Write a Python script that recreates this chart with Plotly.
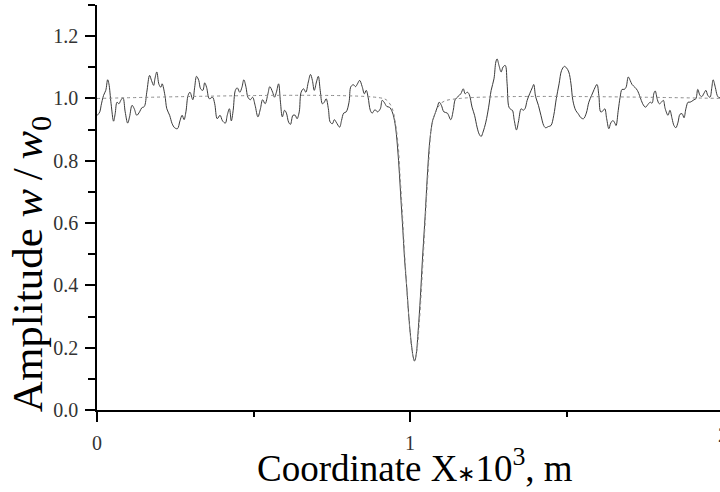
import plotly.graph_objects as go

# amplitude curve (x in units of 10^3 m)
x_wave = [
    0.000, 0.009, 0.013, 0.021, 0.028, 0.034, 0.038, 0.045, 0.053, 0.058,
    0.064, 0.070, 0.076, 0.083, 0.090, 0.098, 0.104, 0.112, 0.119, 0.127,
    0.136, 0.143, 0.151, 0.159, 0.168, 0.174, 0.181, 0.185, 0.191, 0.198,
    0.204, 0.208, 0.217, 0.223, 0.232, 0.240, 0.248, 0.257, 0.265, 0.272,
    0.278, 0.284, 0.291, 0.297, 0.306, 0.312, 0.318, 0.325, 0.331, 0.338,
    0.344, 0.350, 0.359, 0.369, 0.376, 0.384, 0.393, 0.401, 0.410, 0.416,
    0.423, 0.429, 0.435, 0.442, 0.448, 0.456, 0.463, 0.469, 0.476, 0.482,
    0.490, 0.497, 0.505, 0.514, 0.522, 0.529, 0.537, 0.546, 0.552, 0.561,
    0.567, 0.573, 0.580, 0.586, 0.592, 0.599, 0.605, 0.612, 0.618, 0.626,
    0.633, 0.639, 0.646, 0.652, 0.660, 0.667, 0.675,
    0.682, 0.688, 0.694, 0.701, 0.707, 0.713, 0.720, 0.726, 0.732, 0.739,
    0.745, 0.752, 0.758, 0.764, 0.775, 0.781, 0.788, 0.796, 0.805, 0.811,
    0.819, 0.826, 0.832, 0.839, 0.847, 0.854, 0.860, 0.866, 0.873, 0.879,
    0.888, 0.896, 0.905, 0.911, 0.917, 0.926, 0.934, 0.943,
    0.952, 0.960, 0.966, 0.971, 0.977, 0.982, 0.990, 0.997, 1.004, 1.011,
    1.015, 1.020, 1.026, 1.033, 1.040, 1.048, 1.055, 1.062, 1.068, 1.072,
    1.079, 1.087, 1.093, 1.100, 1.108, 1.119, 1.130, 1.138, 1.144, 1.153,
    1.162, 1.170, 1.176, 1.183, 1.189, 1.198, 1.206, 1.214, 1.221, 1.227,
    1.233, 1.242, 1.251, 1.259, 1.268, 1.274, 1.278, 1.284, 1.291, 1.297,
    1.304, 1.310, 1.316, 1.323,
    1.327, 1.333, 1.340, 1.346, 1.355, 1.361, 1.367, 1.374, 1.382, 1.391,
    1.395, 1.401, 1.410, 1.418, 1.427, 1.433, 1.442, 1.450, 1.459, 1.467,
    1.476, 1.484, 1.493, 1.499, 1.507, 1.514, 1.520, 1.529, 1.537, 1.546,
    1.554, 1.563, 1.571, 1.580, 1.588, 1.597, 1.603, 1.609, 1.616, 1.622,
    1.628, 1.635, 1.641, 1.648, 1.654,
    1.658, 1.665, 1.671, 1.677, 1.684, 1.690, 1.697, 1.703, 1.709, 1.718,
    1.726, 1.735, 1.743, 1.752, 1.760, 1.767, 1.773, 1.779, 1.783, 1.790,
    1.796, 1.803, 1.809, 1.815, 1.824, 1.830, 1.837, 1.843, 1.849, 1.856,
    1.862, 1.869, 1.875, 1.881, 1.888, 1.894, 1.900, 1.907, 1.913, 1.919,
    1.926, 1.932, 1.939, 1.945, 1.951, 1.958, 1.964, 1.968, 1.975, 1.981,
    1.985, 2.000,
]
y_wave = [
    0.945, 0.957, 0.977, 1.010, 1.026, 1.060, 1.047, 0.983, 0.927, 0.951,
    0.988, 0.983, 0.994, 1.002, 0.957, 0.921, 0.941, 0.978, 0.967, 0.946,
    0.957, 0.970, 0.974, 1.020, 1.074, 1.058, 1.042, 1.063, 1.085, 1.045,
    1.036, 1.047, 1.010, 0.967, 0.946, 0.919, 0.906, 0.903, 0.928, 0.946,
    0.932, 0.957, 1.010, 1.020, 0.996, 1.036, 1.071, 1.058, 1.031, 1.026,
    1.050, 1.036, 0.999, 1.004, 0.983, 0.935, 0.946, 0.928, 0.921, 0.946,
    0.967, 0.928, 0.962, 1.026, 1.034, 1.020, 1.036, 1.060, 1.036, 1.004,
    0.996, 1.004, 0.978, 0.941, 0.967, 0.996, 0.983, 1.015, 1.038, 1.020,
    1.004, 1.020, 1.047, 0.988, 0.941, 0.962, 0.953, 0.924, 0.917, 0.946,
    0.946, 0.935, 0.957, 1.020, 1.031, 1.020, 1.053,
    1.077, 1.058, 1.026, 1.053, 1.071, 1.026, 0.983, 0.988, 0.999, 0.967,
    0.924, 0.919, 0.932, 0.924, 0.908, 0.929, 0.953, 0.957, 0.988, 1.038,
    1.044, 1.038, 1.047, 1.058, 1.038, 1.015, 1.026, 1.004, 0.962, 0.953,
    0.964, 0.957, 0.967, 0.994, 0.988, 0.974, 0.972, 0.957,
    0.919, 0.844, 0.758, 0.673, 0.577, 0.491, 0.385, 0.288, 0.214, 0.166,
    0.158, 0.182, 0.256, 0.363, 0.491, 0.620, 0.748, 0.854, 0.905, 0.929,
    0.949, 0.972, 0.988, 0.978, 0.957, 0.953, 0.932, 0.962, 0.996, 1.006,
    1.015, 1.031, 1.015, 1.020, 1.013, 0.972, 0.946, 0.908, 0.885, 0.878,
    0.892, 0.924, 0.972, 1.026, 1.063, 1.117, 1.127, 1.106, 1.085, 1.101,
    1.106, 1.047, 0.972, 0.964,
    0.962, 0.929, 0.899, 0.924, 0.967, 0.962, 0.967, 0.994, 1.015, 1.036,
    1.045, 1.006, 0.978, 0.946, 0.913, 0.906, 0.910, 0.913, 0.946, 0.999,
    1.047, 1.090, 1.103, 1.099, 1.085, 1.047, 0.994, 0.962, 0.951, 0.938,
    0.935, 0.953, 0.988, 1.010, 1.029, 1.045, 1.010, 0.957, 0.960, 0.967,
    0.935, 0.903, 0.921, 0.929, 0.921,
    0.913, 0.962, 1.004, 1.029, 1.029, 1.036, 1.069, 1.058, 1.045, 1.036,
    1.026, 1.004, 0.983, 0.972, 0.981, 0.988, 0.985, 1.017, 1.024, 0.996,
    0.983, 0.988, 0.994, 0.967, 0.946, 0.962, 0.935, 0.913, 0.906, 0.924,
    0.949, 0.951, 0.938, 0.967, 0.988, 0.988, 0.991, 0.996, 0.999, 1.029,
    1.010, 1.006, 1.017, 1.026, 1.010, 1.004, 1.036, 1.060, 1.036, 1.010,
    1.004, 1.000,
]

# smooth reference profile (dotted)
x_ref = [0.000, 0.914, 0.930, 0.943, 0.952, 0.962, 0.968, 0.975, 0.982, 0.990,
         0.998, 1.006, 1.013, 1.021, 1.029, 1.037, 1.045, 1.053, 1.061, 1.067,
         1.080, 1.102, 1.159, 2.000]
y_ref = [1.000, 1.000, 0.990, 0.968, 0.929, 0.849, 0.753, 0.641, 0.513, 0.385,
         0.272, 0.192, 0.157, 0.186, 0.272, 0.401, 0.545, 0.689, 0.817, 0.897,
         0.952, 0.987, 1.000, 1.000]

x_ticks = [0, 1]
y_ticks = [0.0, 0.2, 0.4, 0.6, 0.8, 1.0, 1.2]

serif = "Liberation Serif, Times New Roman, serif"

fig = go.Figure()
fig.add_trace(go.Scatter(x=x_wave, y=y_wave, mode='lines',
                         line=dict(color='#3a3a3a', width=1), line_shape='spline',
                         hoverinfo='skip'))
fig.add_trace(go.Scatter(x=x_ref, y=y_ref, mode='lines',
                         line=dict(color='#8a8a8a', width=1, dash='dot'),
                         line_shape='spline', hoverinfo='skip'))

fig.update_layout(
    width=720, height=492,
    margin=dict(l=97, r=0, t=5, b=82),
    paper_bgcolor='white', plot_bgcolor='white',
    showlegend=False,
    font=dict(family=serif, color='black'),
)
fig.update_xaxes(
    range=[0, 1.99], tickvals=x_ticks, ticktext=['0', '1'],
    automargin=False,
    showgrid=False, zeroline=False,
    showline=True, linecolor='black', linewidth=1.5,
    ticks='outside', ticklen=10, tickwidth=1.5, tickcolor='black',
    minor=dict(dtick=0.5, ticks='outside', ticklen=5, tickwidth=1.5, tickcolor='black'),
    tickfont=dict(size=20, color='#333'), ticklabelstandoff=4,
)
fig.update_yaxes(
    range=[0, 1.3], tickvals=y_ticks, tickformat='.1f',
    automargin=False,
    showgrid=False, zeroline=False,
    showline=True, linecolor='black', linewidth=1.5,
    ticks='outside', ticklen=10, tickwidth=1.5, tickcolor='black',
    minor=dict(dtick=0.1, ticks='outside', ticklen=7, tickwidth=1.5, tickcolor='black'),
    tickfont=dict(size=20, color='#333'), ticklabelstandoff=3,
)
# axis titles as annotations so they sit where the original has them
fig.add_annotation(x=0.511, y=-0.075, xref='paper', yref='paper',
                   text='Coordinate X<span style="font-size:22px">∗</span>10<sup>3</sup>, m',
                   showarrow=False, xanchor='center', yanchor='top',
                   font=dict(family=serif, size=37, color='black'))
fig.add_annotation(x=-0.106, y=0.36, xref='paper', yref='paper',
                   text='Amplitude <i>w</i>\u2009/\u2009<i>w</i><sub>0</sub>', textangle=-90,
                   showarrow=False, xanchor='center', yanchor='middle',
                   font=dict(family=serif, size=43, color='black'))
# tick label "2" sits at the right edge, just past the drawn range
fig.add_annotation(x=2 / 1.99, y=0, xref='paper', yref='paper', yshift=-12,
                   text='2', showarrow=False, yanchor='top', xanchor='center',
                   font=dict(family=serif, size=20, color='#333'))

# page body has an 8px default margin; drop it so the figure sits at 0,0
fig.write_html("out.html", config={'displayModeBar': False},
               post_script="document.body.style.margin='0';")
